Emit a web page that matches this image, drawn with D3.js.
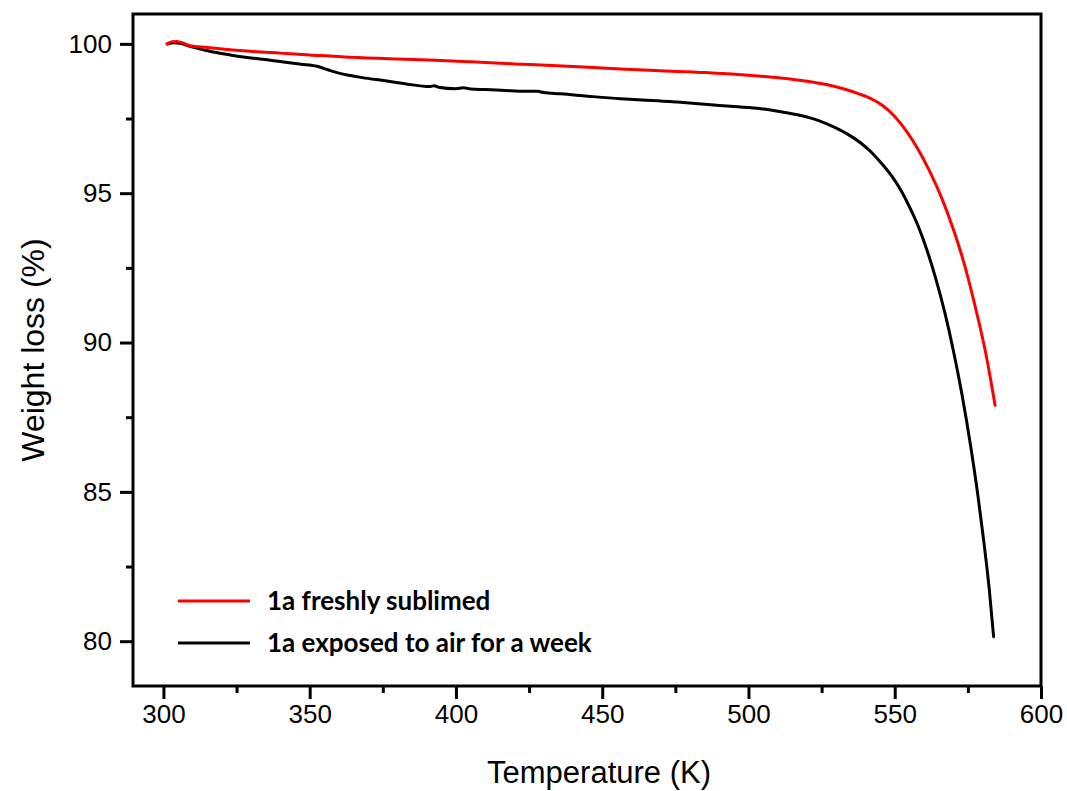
<!DOCTYPE html>
<html>
<head>
<meta charset="utf-8">
<script src="https://cdn.jsdelivr.net/npm/d3@7"></script>
<style>
  body { margin: 0; background: #fff; }
  svg text { fill: #000; }
</style>
</head>
<body>
<div id="chart"></div>
<script>
// series: [temperature K, weight %]
const freshT = [301.2, 303, 304.5, 306, 309, 315, 320, 329.7, 340, 350, 363.9, 380, 393, 405, 420, 440, 456.3, 470, 485, 500, 511, 520, 527, 533, 538, 542, 546, 550, 554, 558, 562, 566, 570, 574, 578, 581, 584.3];
const freshW = [100.0, 100.07, 100.08, 100.05, 99.94, 99.88, 99.83, 99.75, 99.69, 99.63, 99.55, 99.49, 99.45, 99.40, 99.33, 99.24, 99.16, 99.10, 99.04, 98.95, 98.86, 98.75, 98.63, 98.48, 98.32, 98.16, 97.93, 97.57, 97.08, 96.46, 95.72, 94.85, 93.8, 92.55, 91.0, 89.7, 87.9];

const airT = [301.5, 303.5, 305.7, 309, 312.6, 317, 322.8, 330, 336, 341, 347, 352.5, 356, 360, 363.9, 368, 375.2, 383, 391, 392.5, 394, 400, 402.5, 405, 410, 418.7, 425, 428, 430, 435.8, 445, 456.3, 465, 470, 475.7, 485, 495, 504.2, 511, 517.9, 524, 529.3, 534, 538.4, 542, 545.3, 549, 552.1, 555, 558, 561, 564, 567, 570, 573, 576, 578.4, 580.5, 582.3, 583.8];
const airW = [100.0, 100.04, 100.02, 99.92, 99.83, 99.73, 99.63, 99.53, 99.46, 99.39, 99.32, 99.25, 99.14, 99.02, 98.94, 98.87, 98.77, 98.66, 98.57, 98.6, 98.55, 98.5, 98.53, 98.49, 98.47, 98.43, 98.41, 98.41, 98.37, 98.33, 98.25, 98.16, 98.11, 98.09, 98.05, 97.98, 97.9, 97.83, 97.73, 97.6, 97.43, 97.21, 96.97, 96.68, 96.37, 96.02, 95.57, 95.1, 94.55, 93.9, 93.1, 92.15, 91.05, 89.75, 88.25, 86.5, 84.9, 83.3, 81.75, 80.15];

const xTicks = [300, 350, 400, 450, 500, 550, 600];
const xMinor = [325, 375, 425, 475, 525, 575];
const yTicks = [80, 85, 90, 95, 100];
const yMinor = [82.5, 87.5, 92.5, 97.5];
const seriesNames = ["1a freshly sublimed", "1a exposed to air for a week"];
const seriesColors = ["#ff0000", "#000000"];

const W = 1067, H = 791;
const m = { left: 133, right: 1041, top: 14, bottom: 686 };

const svg = d3.select("#chart").append("svg").attr("width", W).attr("height", H);

const x = d3.scaleLinear().domain([289.6, 600]).range([m.left, m.right]);
const y = d3.scaleLinear().domain([78.5, 101]).range([m.bottom, m.top]);

const series = [
  freshT.map((t, i) => [t, freshW[i]]),
  airT.map((t, i) => [t, airW[i]])
];

const line = d3.line().x(d => x(d[0])).y(d => y(d[1])).curve(d3.curveMonotoneX);

// curves, black under red
[1, 0].forEach(i => {
  svg.append("path").datum(series[i])
    .attr("fill", "none")
    .attr("stroke", seriesColors[i])
    .attr("stroke-width", 3)
    .attr("stroke-linejoin", "round")
    .attr("stroke-linecap", "round")
    .attr("d", line);
});

// frame
svg.append("rect")
  .attr("x", m.left).attr("y", m.top)
  .attr("width", m.right - m.left).attr("height", m.bottom - m.top)
  .attr("fill", "none").attr("stroke", "#000").attr("stroke-width", 3);

const font = "'Liberation Sans', Arial, sans-serif";

// x axis
const xAxis = svg.append("g").attr("transform", `translate(0,${m.bottom})`)
  .call(d3.axisBottom(x).tickValues(xTicks).tickSize(13).tickPadding(6).tickFormat(d3.format("d")));
xAxis.select(".domain").remove();
xAxis.selectAll(".tick line").attr("stroke-width", 3);
xAxis.selectAll(".tick text").attr("font-family", font).attr("font-size", 26).attr("fill", "#000");

const xAxisMinor = svg.append("g").attr("transform", `translate(0,${m.bottom})`)
  .call(d3.axisBottom(x).tickValues(xMinor).tickSize(7).tickFormat(""));
xAxisMinor.select(".domain").remove();
xAxisMinor.selectAll(".tick line").attr("stroke-width", 3);

// y axis
const yAxis = svg.append("g").attr("transform", `translate(${m.left},0)`)
  .call(d3.axisLeft(y).tickValues(yTicks).tickSize(13).tickPadding(8).tickFormat(d3.format("d")));
yAxis.select(".domain").remove();
yAxis.selectAll(".tick line").attr("stroke-width", 3);
yAxis.selectAll(".tick text").attr("font-family", font).attr("font-size", 26).attr("fill", "#000");

const yAxisMinor = svg.append("g").attr("transform", `translate(${m.left},0)`)
  .call(d3.axisLeft(y).tickValues(yMinor).tickSize(7).tickFormat(""));
yAxisMinor.select(".domain").remove();
yAxisMinor.selectAll(".tick line").attr("stroke-width", 3);

// axis titles
svg.append("text")
  .attr("x", (m.left + m.right) / 2 + 12).attr("y", 783)
  .attr("text-anchor", "middle")
  .attr("font-family", font).attr("font-size", 31)
  .text("Temperature (K)");

svg.append("text")
  .attr("transform", `translate(44,${(m.top + m.bottom) / 2}) rotate(-90)`)
  .attr("text-anchor", "middle")
  .attr("font-family", font).attr("font-size", 32)
  .text("Weight loss (%)");

// legend
const legend = svg.append("g");
seriesNames.forEach((name, i) => {
  const ly = 601 + i * 42;
  legend.append("line")
    .attr("x1", 178).attr("x2", 250).attr("y1", ly).attr("y2", ly)
    .attr("stroke", seriesColors[i]).attr("stroke-width", 3);
  legend.append("text")
    .attr("x", 267).attr("y", ly).attr("dy", "0.35em")
    .attr("font-family", "Lato, 'Open Sans', sans-serif")
    .attr("font-weight", "bold").attr("font-size", 26)
    .text(name);
});
</script>
</body>
</html>
